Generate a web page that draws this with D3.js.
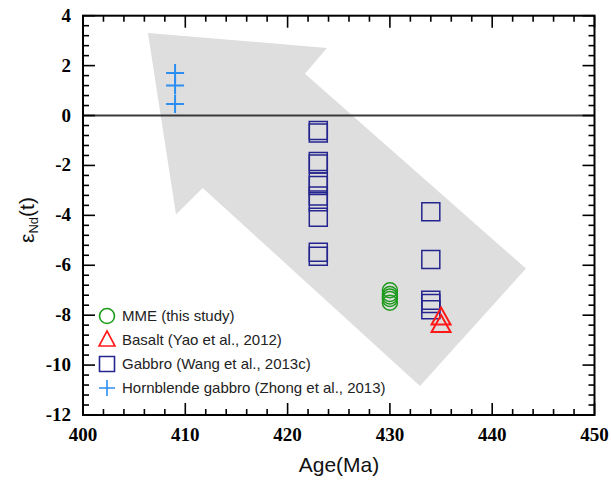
<!DOCTYPE html>
<html>
<head>
<meta charset="utf-8">
<script src="https://cdn.jsdelivr.net/npm/d3@7"></script>
<style>
  html, body { margin: 0; padding: 0; background: #fff; }
  svg { display: block; }
  .tick-label { font-family: "Liberation Serif", "Times New Roman", Times, "DejaVu Serif", serif; font-weight: 700; font-size: 19px; fill: #000; }
  .sans { font-family: Arial, "Liberation Sans", Helvetica, sans-serif; }
</style>
</head>
<body>
<svg id="chart" width="611" height="481"></svg>
<script>
// εNd(t) versus age for mafic rocks of the region
const ageTicks = [400, 410, 420, 430, 440, 450];
const endTicks = [-12, -10, -8, -6, -4, -2, 0, 2, 4];

// MME (this study)
const mmeAge = [430, 430, 430, 430, 430];
const mmeEnd = [-7.0, -7.15, -7.25, -7.35, -7.5];

// Basalt (Yao et al., 2012)
const basaltAge = [435, 435];
const basaltEnd = [-8.15, -8.45];

// Gabbro (Wang et al., 2013c)
const gabbroAge = [423, 423, 423, 423, 423, 423, 423, 423, 423, 423, 423, 434, 434, 434, 434, 434];
const gabbroEnd = [-0.6, -0.7, -1.84, -1.94, -2.66, -2.8, -3.22, -3.46, -4.08, -5.48, -5.64, -3.86, -5.77, -7.4, -7.53, -7.78];

// Hornblende gabbro (Zhong et al., 2013)
const hblAge = [409, 409, 409];
const hblEnd = [1.7, 1.2, 0.46];

// Trend arrow outline, in (age, εNd) units
const arrowAge = [406.35, 423.85, 421.7, 443.3, 432.94, 411.7, 409.09];
const arrowEnd = [3.31, 2.71, 1.67, -6.13, -10.84, -2.9, -3.97];

const legendLabels = [
  "MME (this study)",
  "Basalt (Yao et al., 2012)",
  "Gabbro (Wang et al., 2013c)",
  "Hornblende gabbro (Zhong et al., 2013)"
];

(function draw() {
  const svg = d3.select("#chart");
  const pl = 83, pr = 594.5, pt = 15.7, pb = 415;
  const x = d3.scaleLinear().domain([400, 450]).range([pl, pr]);
  const y = d3.scaleLinear().domain([-12, 4]).range([pb, pt]);

  const GREEN = "#1d9a1d", RED = "#ff1a1a", NAVY = "#25258f", SKY = "#2b8ef0";

  // shaded arrow
  svg.append("path")
    .attr("d", d3.line()(arrowAge.map((a, i) => [x(a), y(arrowEnd[i])])) + "Z")
    .attr("fill", "#dedede");

  // zero line
  svg.append("line")
    .attr("x1", x(400)).attr("x2", x(450))
    .attr("y1", y(0)).attr("y2", y(0))
    .attr("stroke", "#3a3a3a").attr("stroke-width", 2);

  // marker shapes
  const sq = 18;
  function squarePath(cx, cy, s) {
    return `M${cx - s / 2},${cy - s / 2}h${s}v${s}h${-s}Z`;
  }
  function trianglePath(cx, cy, w, h) {
    return `M${cx},${cy - h * 2 / 3}L${cx + w / 2},${cy + h / 3}L${cx - w / 2},${cy + h / 3}Z`;
  }

  // gabbro squares
  svg.append("g").selectAll("path").data(gabbroAge).join("path")
    .attr("d", (d, i) => squarePath(x(d), y(gabbroEnd[i]), sq))
    .attr("fill", "none").attr("stroke", NAVY).attr("stroke-width", 1.5);

  // MME circles
  svg.append("g").selectAll("circle").data(mmeAge).join("circle")
    .attr("cx", d => x(d)).attr("cy", (d, i) => y(mmeEnd[i])).attr("r", 7.5)
    .attr("fill", "none").attr("stroke", GREEN).attr("stroke-width", 1.5);

  // basalt triangles
  svg.append("g").selectAll("path").data(basaltAge).join("path")
    .attr("d", (d, i) => trianglePath(x(d), y(basaltEnd[i]), 19, 17))
    .attr("fill", "none").attr("stroke", RED).attr("stroke-width", 2);

  // hornblende gabbro crosses
  svg.append("g").selectAll("path").data(hblAge).join("path")
    .attr("d", (d, i) => {
      const cx = x(d), cy = y(hblEnd[i]);
      return `M${cx - 9},${cy}h18M${cx},${cy - 9}v18`;
    })
    .attr("fill", "none").attr("stroke", SKY).attr("stroke-width", 2);

  // axes with inward ticks on all four sides
  const xMinor = d3.range(400, 450.001, 2);
  const yMinor = d3.range(-12, 4.001, 0.4).map(v => Math.round(v * 10) / 10);
  const isMajorX = v => Math.abs(v % 10) < 1e-6;
  const isMajorY = v => Math.abs(Math.round(v) - v) < 1e-6 && Math.round(v) % 2 === 0;

  const axes = svg.append("g").attr("stroke", "#000").attr("stroke-width", 1.6);
  xMinor.forEach(v => {
    const len = isMajorX(v) ? 12 : 6;
    axes.append("line").attr("x1", x(v)).attr("x2", x(v)).attr("y1", pb).attr("y2", pb - len);
    axes.append("line").attr("x1", x(v)).attr("x2", x(v)).attr("y1", pt).attr("y2", pt + len);
  });
  yMinor.forEach(v => {
    const len = isMajorY(v) ? 12 : 6;
    axes.append("line").attr("y1", y(v)).attr("y2", y(v)).attr("x1", pl).attr("x2", pl + len);
    axes.append("line").attr("y1", y(v)).attr("y2", y(v)).attr("x1", pr).attr("x2", pr - len);
  });
  svg.append("rect")
    .attr("x", pl).attr("y", pt).attr("width", pr - pl).attr("height", pb - pt)
    .attr("fill", "none").attr("stroke", "#000").attr("stroke-width", 2);

  // tick labels
  svg.append("g").selectAll("text").data(ageTicks).join("text")
    .attr("class", "tick-label")
    .attr("x", d => x(d)).attr("y", 441)
    .attr("text-anchor", "middle")
    .text(d => d);
  svg.append("g").selectAll("text").data(endTicks).join("text")
    .attr("class", "tick-label")
    .attr("x", 71).attr("y", d => y(d) + 6)
    .attr("text-anchor", "end")
    .text(d => d);

  // axis titles
  svg.append("text")
    .attr("class", "sans")
    .attr("x", 339).attr("y", 472)
    .attr("text-anchor", "middle")
    .attr("font-size", 21).attr("fill", "#111")
    .text("Age(Ma)");
  const yt = svg.append("text")
    .attr("class", "sans")
    .attr("transform", "translate(34,220) rotate(-90)")
    .attr("text-anchor", "middle")
    .attr("font-size", 21).attr("fill", "#111");
  yt.append("tspan").text("ε");
  yt.append("tspan").attr("font-size", 13).attr("dy", 4).text("Nd");
  yt.append("tspan").attr("dy", -4).text("(t)");

  // legend
  const legY = [316, 340, 364, 388];
  const lg = svg.append("g");
  const mx = 107;
  lg.append("circle").attr("cx", mx).attr("cy", legY[0]).attr("r", 7.5)
    .attr("fill", "none").attr("stroke", GREEN).attr("stroke-width", 1.6);
  lg.append("path").attr("d", trianglePath(mx, legY[1] + 1, 16, 15))
    .attr("fill", "none").attr("stroke", RED).attr("stroke-width", 1.6);
  lg.append("path").attr("d", squarePath(mx, legY[2], 15))
    .attr("fill", "none").attr("stroke", NAVY).attr("stroke-width", 1.6);
  lg.append("path").attr("d", `M${mx - 8},${legY[3]}h16M${mx},${legY[3] - 8}v16`)
    .attr("fill", "none").attr("stroke", SKY).attr("stroke-width", 1.6);
  lg.selectAll("text").data(legendLabels).join("text")
    .attr("class", "sans")
    .attr("x", 122).attr("y", (d, i) => legY[i] + 5)
    .attr("font-size", 15).attr("fill", "#222")
    .text(d => d);
})();
</script>
</body>
</html>
